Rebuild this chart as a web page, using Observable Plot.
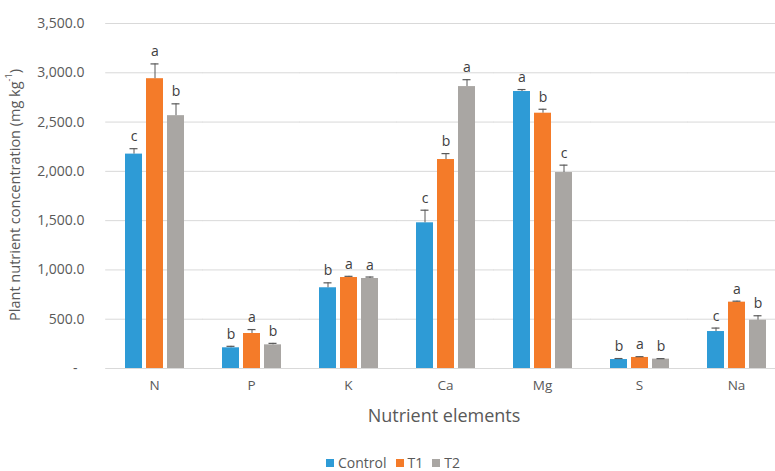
<!DOCTYPE html>
<html><head><meta charset="utf-8">
<script src="https://cdn.jsdelivr.net/npm/d3@7"></script>
<script src="https://cdn.jsdelivr.net/npm/@observablehq/plot@0.6"></script>
<style>
body{margin:0;background:#fff;}
#wrap{position:relative;width:775px;height:471px;}
#chart{position:absolute;left:0;top:0;}
#legend{position:absolute;left:0;top:455px;width:775px;height:15px;display:flex;justify-content:center;padding-left:20px;box-sizing:border-box;}
#legend > div{font-family:"Open Sans",sans-serif !important;font-size:14px !important;line-height:15px !important;color:#595959 !important;margin:0 !important;min-height:0 !important;height:15px !important;}
#legend span{margin-right:9px !important;line-height:15px !important;}
#legend svg{margin-right:4px !important;}
</style></head><body>
<div id="wrap"><div id="chart"></div><div id="legend"></div></div>
<script>
const elements = ["N", "P", "K", "Ca", "Mg", "S", "Na"];
const series = ["Control", "T1", "T2"];
const controlValues = [2175, 210, 819, 1478, 2810, 91, 375];
const t1Values = [2940, 355, 923, 2120, 2590, 112, 673];
const t2Values = [2565, 240, 913, 2860, 1988, 95, 490];
const controlErr = [55, 15, 50, 128, 20, 10, 35];
const t1Err = [150, 40, 12, 60, 40, 8, 10];
const t2Err = [120, 15, 15, 70, 75, 5, 45];
const controlLetters = ["c", "b", "b", "c", "a", "b", "c"];
const t1Letters = ["a", "a", "a", "b", "b", "a", "a"];
const t2Letters = ["b", "b", "a", "a", "c", "b", "b"];
const yTicks = [0, 500, 1000, 1500, 2000, 2500, 3000, 3500];
const colors = ["#2E9BD6", "#F47B29", "#A9A6A3"];

const values = [controlValues, t1Values, t2Values];
const errs = [controlErr, t1Err, t2Err];
const letters = [controlLetters, t1Letters, t2Letters];
const data = [];
elements.forEach((e, i) => series.forEach((s, j) => data.push({
  element: e, series: s, value: values[j][i], err: errs[j][i], letter: letters[j][i]
})));

const fmt = d3.format(",.1f");
const halfGap = -18.8;
const plot = Plot.plot({
  width: 775, height: 440,
  marginLeft: 104, marginRight: -10, marginTop: 23, marginBottom: 72,
  style: {fontFamily: "Open Sans, sans-serif", fontSize: "13px", color: "#595959", background: "transparent"},
  fx: {domain: elements, paddingInner: 0.383, paddingOuter: 0.19, label: null},
  x: {domain: series, paddingInner: 0.21, paddingOuter: 0, axis: null},
  y: {domain: [0, 3500], label: null},
  color: {domain: series, range: colors},
  marks: [
    Plot.ruleY(yTicks, {y: d => d, stroke: "#d9d9d9", strokeWidth: 1, insetLeft: halfGap, insetRight: halfGap}),
    Plot.barY(data, {fx: "element", x: "series", y: "value", fill: "series"}),
    Plot.ruleX(data, {fx: "element", x: "series", y1: "value", y2: d => d.value + d.err, stroke: "#595959", strokeWidth: 1}),
    Plot.tickY(data, {fx: "element", x: "series", y: d => d.value + d.err, stroke: "#595959", strokeWidth: 1.2, insetLeft: 4.5, insetRight: 4.5}),
    Plot.text(data, {fx: "element", x: "series", y: d => d.value + d.err, text: "letter", dy: -12, fontSize: 14, fill: "#404040"}),
    Plot.axisY({ticks: yTicks, tickSize: 0, tickPadding: 40, fontSize: 14, tickFormat: d => d === 0 ? "-\u2002" : fmt(d), label: null, fill: "#595959"}),
    Plot.axisFx({anchor: "bottom", tickSize: 0, tickPadding: 12, fontSize: 13.5, label: null, fill: "#595959"})
  ]
});
document.getElementById("chart").appendChild(plot);

const svg = d3.select(plot);
const yt = svg.append("text")
  .attr("transform", "translate(16,195) rotate(-90)")
  .attr("text-anchor", "middle").attr("dominant-baseline", "middle")
  .attr("font-family", "Open Sans, sans-serif").attr("font-size", 14.5).attr("fill", "#595959");
yt.append("tspan").text("Plant nutrient concentration (mg kg");
yt.append("tspan").attr("baseline-shift", "super").attr("font-size", 9).text("-1");
yt.append("tspan").text(")");
svg.append("text")
  .attr("x", 444).attr("y", 417)
  .attr("text-anchor", "middle").attr("dominant-baseline", "middle")
  .attr("font-family", "Open Sans, sans-serif").attr("font-size", 18).attr("fill", "#595959")
  .text("Nutrient elements");

const leg = Plot.legend({color: {domain: series, range: colors}, swatchSize: 8});
document.getElementById("legend").appendChild(leg);
</script>
</body></html>
